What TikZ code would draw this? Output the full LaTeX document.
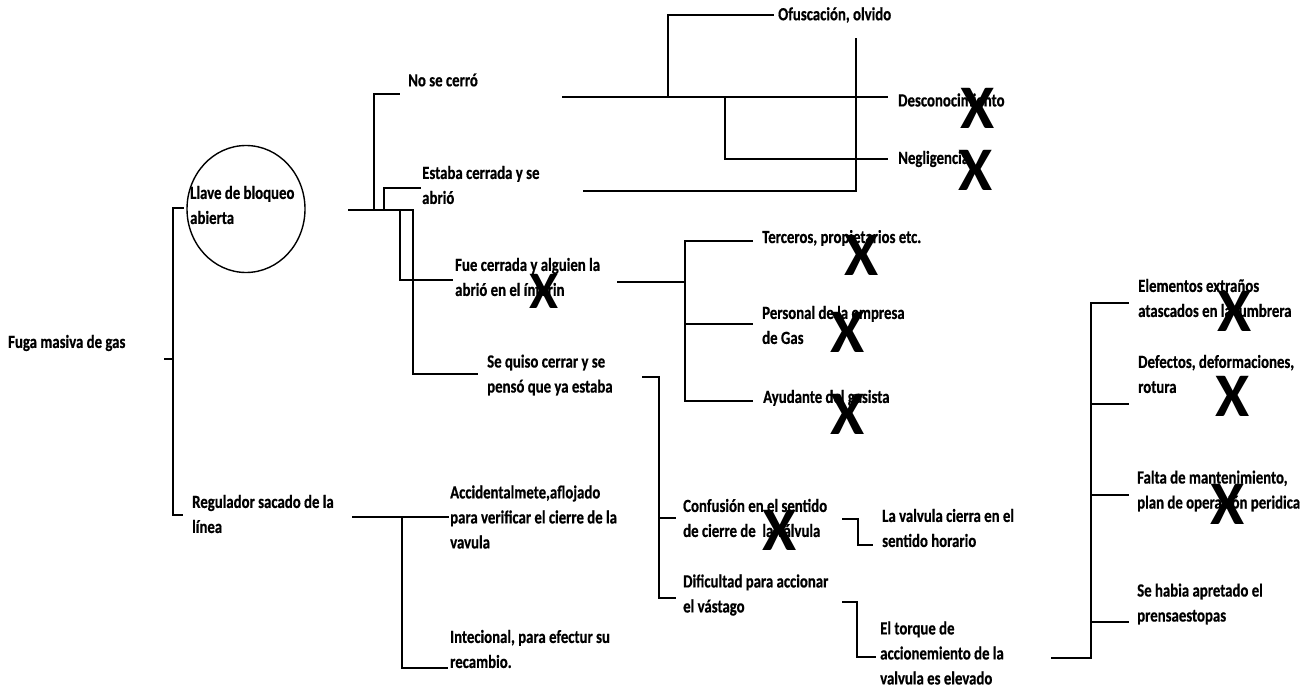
\documentclass[tikz,border=0pt]{standalone}
\usepackage{fontspec}
\newfontfamily\lbl{Carlito Bold}[FakeStretch=0.8, FakeBold=0.6]
\newfontfamily\xfont{Carlito Bold}
\usetikzlibrary{shapes.geometric}
\begin{document}
\begin{tikzpicture}[x=1pt,y=-1pt,
  lbl/.style={font=\lbl\fontsize{18.5}{25}\selectfont, anchor=west, inner sep=0pt, align=left},
  xmark/.style={font=\xfont\fontsize{62}{62}\selectfont, inner sep=0pt, text depth=0pt},
  conn/.style={line width=1.2pt, line cap=rect}]
\fill[white] (0,0) rectangle (1313,698);
\useasboundingbox (0,0) rectangle (1313,698);

% circle
\node[draw, ellipse, line width=1.4pt, minimum width=118, minimum height=127, inner sep=0pt] (llave) at (246,209) {};

% text nodes
\node[lbl] (fuga) at (8,343) {Fuga masiva de gas};
\node[lbl] (llavet) at (190,205) {Llave de bloqueo\\abierta};
\node[lbl] (regul) at (192,514) {Regulador sacado de la\\línea};
\node[lbl] (nocerro) at (408,80) {No se cerró};
\node[lbl] (estaba) at (422,185) {Estaba cerrada y se\\abrió};
\node[lbl] (fue) at (455,277) {Fue cerrada y alguien la\\abrió en el ínterin};
\node[lbl] (sequiso) at (487,375) {Se quiso cerrar y se\\pensó que ya estaba};
\node[lbl] (ofus) at (778,15) {Ofuscación, olvido};
\node[lbl] (descon) at (898,100) {Desconocimiento};
\node[lbl] (neglig) at (898,159) {Negligencia};
\node[lbl] (terceros) at (762,238) {Terceros, propietarios etc.};
\node[lbl] (personal) at (762,325) {Personal de la empresa\\de Gas};
\node[lbl] (ayudante) at (763,398) {Ayudante del gasista};
\node[lbl] (accid) at (450,517) {Accidentalmete,aflojado\\para verificar el cierre de la\\vavula};
\node[lbl] (intec) at (450,649) {Intecional, para efectur su\\recambio.};
\node[lbl] (confus) at (683,518) {Confusión en el sentido\\de cierre de\ \ la válvula};
\node[lbl] (dific) at (683,595) {Dificultad para accionar\\el vástago};
\node[lbl] (lavalv) at (882,528) {La valvula cierra en el\\sentido horario};
\node[lbl] (torque) at (880,653) {El torque de\\accionemiento de la\\valvula es elevado};
\node[lbl] (elem) at (1138,298) {Elementos extraños\\atascados en la lumbrera};
\node[lbl] (defect) at (1138,374) {Defectos, deformaciones,\\rotura};
\node[lbl] (falta) at (1137,491) {Falta de mantenimiento,\\plan de operación peridica};
\node[lbl] (sehabia) at (1137,604) {Se habia apretado el\\prensaestopas};

% X marks
\node[xmark] (xdes) at (978,108) {X};
\node[xmark] (xneg) at (976,170) {X};
\node[xmark, scale=0.85] (xfue) at (544,291) {X};
\node[xmark] (xter) at (862,255) {X};
\node[xmark] (xper) at (848,332) {X};
\node[xmark] (xayu) at (848,414) {X};
\node[xmark] (xconf) at (780,530) {X};
\node[xmark] (xelem) at (1235,311) {X};
\node[xmark] (xdef) at (1233,396) {X};
\node[xmark] (xfalta) at (1228,504) {X};

% coordinates
\coordinate (A1) at (183,208); \coordinate (A2) at (173,208);
\coordinate (A3) at (173,515); \coordinate (A4) at (182,515);
\coordinate (A5) at (165,359); \coordinate (A6) at (173,359);
\coordinate (B0) at (349,210); \coordinate (B4) at (413,210);
\coordinate (Bn) at (399,94); \coordinate (Be) at (420,188);
\coordinate (Bf) at (452,280); \coordinate (Bs) at (477,374);
\coordinate (C0) at (563,97); \coordinate (Cd) at (887,97);
\coordinate (Co) at (773,15); \coordinate (Cn) at (887,159);
\coordinate (Ce0) at (584,191); \coordinate (Ce1) at (856,39);
\coordinate (D0) at (618,282); \coordinate (Dj) at (685,282);
\coordinate (Dt) at (752,241); \coordinate (Dp) at (752,324); \coordinate (Da) at (752,401);
\coordinate (E0) at (643,377); \coordinate (Ej) at (659,377);
\coordinate (Ed) at (675,598); \coordinate (Ec) at (675,518);
\coordinate (F0) at (353,517); \coordinate (F1) at (448,517);
\coordinate (Fj) at (402,517); \coordinate (Fi) at (447,668);
\coordinate (G1a) at (843,519); \coordinate (G1b) at (858,519); \coordinate (G1c) at (872,545);
\coordinate (G2a) at (843,602); \coordinate (G2b) at (857,602); \coordinate (G2c) at (875,657);
\coordinate (H0) at (1052,658); \coordinate (Hj) at (1091,658);
\coordinate (He) at (1128,303); \coordinate (Hd) at (1128,404);
\coordinate (Hf) at (1128,495); \coordinate (Hs) at (1128,622);

% connectors
\begin{scope}[conn]
\draw (A1) -- (A2) -- (A3) -- (A4);
\draw (A5) -- (A6);
\draw (B0) -- (B4);
\draw (Bn) -| ([xshift=25]B0);
\draw (Be) -| ([xshift=35]B0);
\draw (Bf) -| ([xshift=51]B0);
\draw (Bs) -| (B4);
\draw (C0) -- (Cd);
\draw (Co) -| ([xshift=105]C0);
\draw (Cn) -| ([xshift=162]C0);
\draw (Ce0) -| (Ce1);
\draw (D0) -- (Dj);
\draw (Dt) -| (Dj);
\draw (Da) -| (Dj);
\draw (Dp) -- (Dp -| Dj);
\draw (E0) -- (Ej) |- (Ed);
\draw (Ec) -- (Ec -| Ej);
\draw (F0) -- (F1);
\draw (Fj) |- (Fi);
\draw (G1a) -- (G1b) |- (G1c);
\draw (G2a) -- (G2b) |- (G2c);
\draw (H0) -- (Hj) |- (He);
\draw (Hd) -- (Hd -| Hj);
\draw (Hf) -- (Hf -| Hj);
\draw (Hs) -- (Hs -| Hj);
\end{scope}
\end{tikzpicture}
\end{document}
